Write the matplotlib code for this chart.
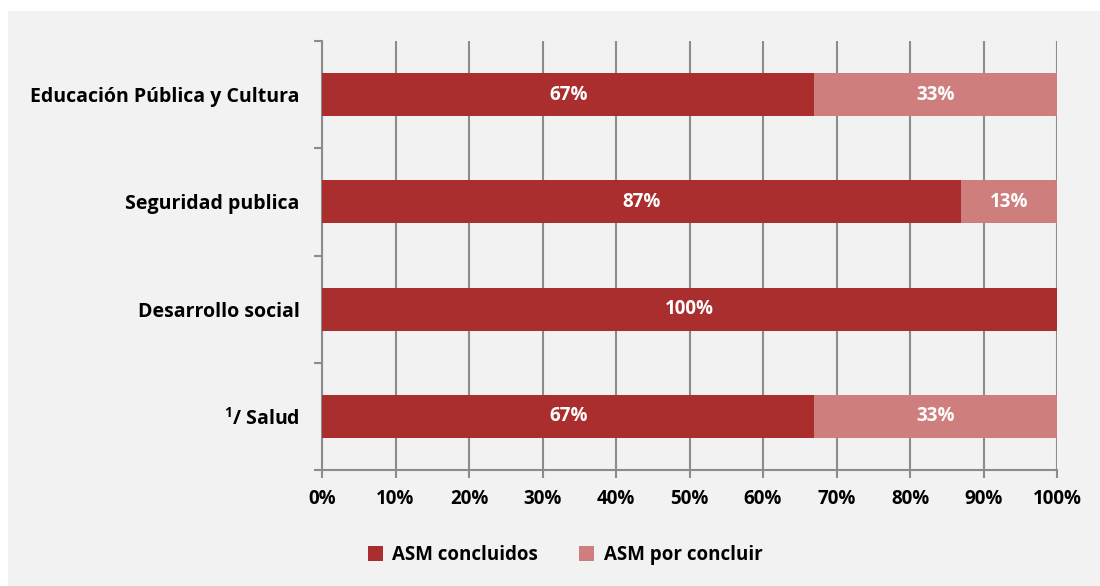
import matplotlib.pyplot as plt
from matplotlib.patches import Rectangle
from matplotlib.ticker import MultipleLocator, PercentFormatter

plt.rcParams['font.family'] = ['Open Sans', 'DejaVu Sans']
plt.rcParams['font.weight'] = 'bold'
plt.rcParams['mathtext.default'] = 'regular'

categorias = ['$^{1}$/ Salud', 'Desarrollo social', 'Seguridad publica',
              'Educación Pública y Cultura']
concluidos = [67, 100, 87, 67]
por_concluir = [33, 0, 13, 33]
series = ['ASM concluidos', 'ASM por concluir']

color_osc = '#ab2e2e'
color_cla = '#cf7e7e'

fig = plt.figure(figsize=(11, 5.86), dpi=100)
fig.patch.set_facecolor('white')
# recuadro gris de fondo
fig.patches.append(Rectangle((8 / 1100, 0), 1, 1 - 11 / 586, transform=fig.transFigure,
                             facecolor='#f2f2f2', edgecolor='none', zorder=-10))

ax = fig.add_axes([322 / 1100, 1 - 470 / 586, 735 / 1100, 429 / 586])
ax.set_facecolor('none')

y = range(len(categorias))
b1 = ax.barh(y, concluidos, height=0.4, color=color_osc, label=series[0], zorder=3)
b2 = ax.barh(y, por_concluir, left=concluidos, height=0.4, color=color_cla,
             label=series[1], zorder=3)

for barras, vals in ((b1, concluidos), (b2, por_concluir)):
    for r, v in zip(barras, vals):
        if v > 0:
            ax.text(r.get_x() + r.get_width() / 2, r.get_y() + r.get_height() / 2,
                    f'{v}%', ha='center', va='center', color='white',
                    fontsize=13.5, fontweight='bold', zorder=4)

ax.set_xlim(0, 100)
ax.set_ylim(-0.5, len(categorias) - 0.5)
ax.xaxis.set_major_locator(MultipleLocator(10))
ax.xaxis.set_major_formatter(PercentFormatter(decimals=0))
ax.grid(axis='x', color='#8c8c8c', linewidth=1.5, zorder=1)

ax.set_yticks(list(y))
ax.set_yticklabels(categorias)
ax.set_yticks([i - 0.5 for i in range(len(categorias) + 1)], minor=True)
ax.tick_params(axis='y', which='major', length=0, pad=16, labelsize=14)
ax.tick_params(axis='y', which='minor', length=6, width=1.5, color='#8c8c8c')
ax.tick_params(axis='x', length=6, width=1.5, color='#8c8c8c', labelsize=13.5, pad=8)

for s in ('top', 'right'):
    ax.spines[s].set_visible(False)
for s in ('left', 'bottom'):
    ax.spines[s].set_color('#8c8c8c')
    ax.spines[s].set_linewidth(1.5)

leg = fig.legend(handles=[b1, b2], loc='center', bbox_to_anchor=(565 / 1100, 1 - 555 / 586),
                 ncol=2, frameon=False, fontsize=13.5, handlelength=0.8, handleheight=0.8,
                 columnspacing=2.2, handletextpad=0.5)

fig.savefig('out.png', dpi=100, facecolor=fig.get_facecolor())
